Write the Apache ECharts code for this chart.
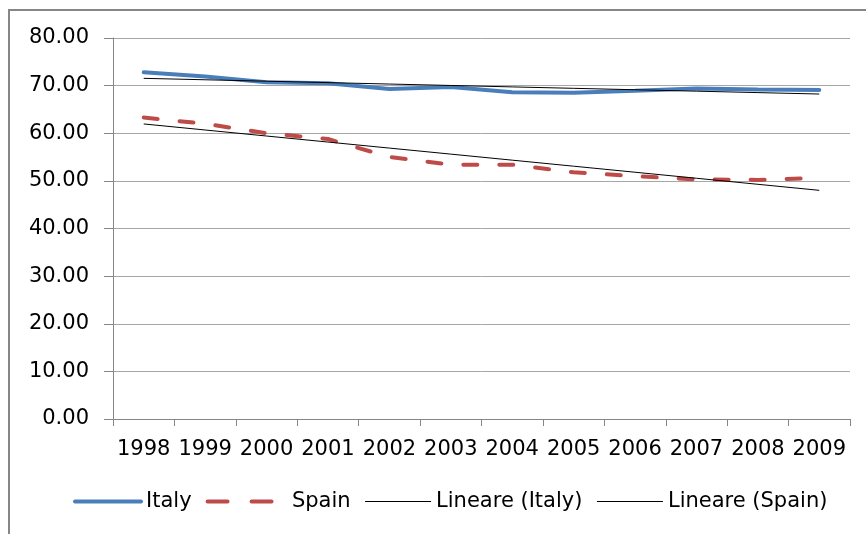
<!DOCTYPE html>
<html>
<head>
<meta charset="utf-8">
<script src="https://cdn.jsdelivr.net/npm/echarts@6/dist/echarts.min.js"></script>
<style>
html, body { margin: 0; padding: 0; background: #fff; }
#main { width: 866px; height: 534px; }
</style>
</head>
<body>
<div id="main"></div>
<script>
var years = ['1998', '1999', '2000', '2001', '2002', '2003', '2004', '2005', '2006', '2007', '2008', '2009'];
var italy = [72.8, 71.9, 70.7, 70.5, 69.3, 69.7, 68.6, 68.5, 68.9, 69.4, 69.2, 69.1];
var spain = [63.3, 62.0, 60.0, 58.8, 55.0, 53.4, 53.4, 51.8, 51.0, 50.3, 50.2, 50.6];
var yTicks = [0, 10, 20, 30, 40, 50, 60, 70, 80];

// linear trend (least squares), like Excel's "Lineare"
function trend(vals) {
	var n = vals.length, sx = 0, sy = 0, sxy = 0, sxx = 0;
	for (var i = 0; i < n; i++) {
		sx += i; sy += vals[i]; sxy += i * vals[i]; sxx += i * i;
	}
	var b = (n * sxy - sx * sy) / (n * sxx - sx * sx);
	var a = (sy - b * sx) / n;
	return vals.map(function(v, i) { return a + b * i; });
}

var font = 'DejaVu Sans';
var blue = '#4a7ebb', red = '#be4b48';
var myChart = echarts.init(document.getElementById('main'));
var option = {
	animation: false,
	graphic: [{
		type: 'rect',
		shape: { x: 9, y: 10, width: 880, height: 560 },
		style: { fill: null, stroke: '#868686', lineWidth: 2 },
		silent: true
	}],
	grid: { left: 113, right: 16, top: 38, bottom: 115 },
	legend: {
		bottom: 17,
		left: 68,
		itemWidth: 66,
		itemHeight: 8,
		itemGap: 14,
		textStyle: { fontFamily: font, fontSize: 21, color: '#000' },
		formatter: function(name) { return name === 'Spain' ? '  Spain' : name; },
		data: [
			{ name: 'Italy', itemStyle: { opacity: 0 }, lineStyle: { color: blue, width: 4, cap: 'round' } },
			{ name: 'Spain', itemStyle: { opacity: 0 }, lineStyle: { color: red, width: 4, type: [20, 24], cap: 'round' } },
			{ name: 'Lineare (Italy)', itemStyle: { opacity: 0 }, lineStyle: { color: '#000', width: 1 } },
			{ name: 'Lineare (Spain)', itemStyle: { opacity: 0 }, lineStyle: { color: '#000', width: 1 } }
		]
	},
	xAxis: {
		type: 'category',
		data: years,
		boundaryGap: true,
		axisLine: { lineStyle: { color: '#868686', width: 1 } },
		axisTick: { show: true, length: 7, lineStyle: { color: '#868686' } },
		axisLabel: { fontFamily: font, fontSize: 21, color: '#000', margin: 20, interval: 0 }
	},
	yAxis: {
		type: 'value',
		min: yTicks[0],
		max: yTicks[yTicks.length - 1],
		interval: 10,
		axisLine: { show: true, lineStyle: { color: '#868686', width: 1 } },
		axisTick: { show: true, length: 9, lineStyle: { color: '#868686' } },
		splitLine: { lineStyle: { color: '#a6a6a6', width: 1 } },
		axisLabel: {
			fontFamily: font, fontSize: 21, color: '#000', margin: 24,
			formatter: function(v) { return v.toFixed(2); }
		}
	},
	series: [{
		name: 'Italy',
		type: 'line',
		data: italy,
		symbol: 'none',
		lineStyle: { color: blue, width: 4, cap: 'round' },
		itemStyle: { color: blue },
		z: 3
	}, {
		name: 'Spain',
		type: 'line',
		data: spain,
		symbol: 'none',
		lineStyle: { color: red, width: 4, type: [14, 22], cap: 'round' },
		itemStyle: { color: red },
		z: 3
	}, {
		name: 'Lineare (Italy)',
		type: 'line',
		data: trend(italy),
		symbol: 'none',
		lineStyle: { color: '#000', width: 1 },
		itemStyle: { color: '#000' },
		z: 4
	}, {
		name: 'Lineare (Spain)',
		type: 'line',
		data: trend(spain),
		symbol: 'none',
		lineStyle: { color: '#000', width: 1 },
		itemStyle: { color: '#000' },
		z: 4
	}]
};
myChart.setOption(option);
</script>
</body>
</html>
